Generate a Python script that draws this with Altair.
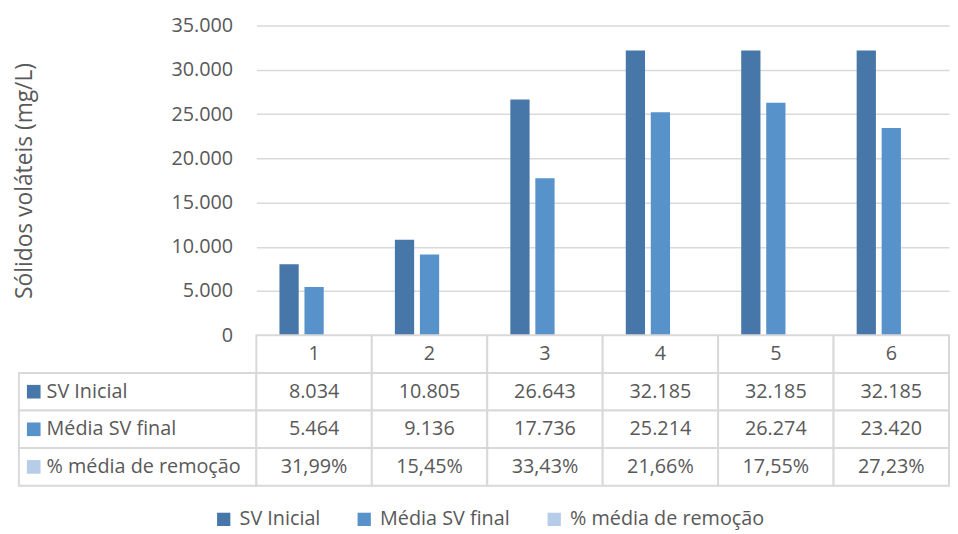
import altair as alt
import pandas as pd

categories = ["1", "2", "3", "4", "5", "6"]
series = ["SV Inicial", "Média SV final", "% média de remoção"]
sv_inicial = [8034, 10805, 26643, 32185, 32185, 32185]
media_sv_final = [5464, 9136, 17736, 25214, 26274, 23420]
pct_remocao = [31.99, 15.45, 33.43, 21.66, 17.55, 27.23]
colors = ["#4777A8", "#5892CA", "#B6CCE8"]
y_ticks = [0, 5000, 10000, 15000, 20000, 25000, 30000, 35000]

FONT = "Open Sans"
TXT = "#595959"
GRID = "#D9D9D9"
FS = 20

def fmt_int(v):
    return f"{v:,}".replace(",", ".")

def fmt_pct(v):
    return f"{v:.2f}%".replace(".", ",")

# bar data
rows = []
for i, c in enumerate(categories):
    rows.append({"cat": c, "series": series[0], "value": sv_inicial[i]})
    rows.append({"cat": c, "series": series[1], "value": media_sv_final[i]})
    rows.append({"cat": c, "series": series[2], "value": pct_remocao[i] / 100})
bars_df = pd.DataFrame(rows)

# table data
row_keys = ["hdr"] + series
trows = []
for i, c in enumerate(categories):
    trows.append({"cat": c, "row": "hdr", "label": c})
    trows.append({"cat": c, "row": series[0], "label": fmt_int(sv_inicial[i])})
    trows.append({"cat": c, "row": series[1], "label": fmt_int(media_sv_final[i])})
    trows.append({"cat": c, "row": series[2], "label": fmt_pct(pct_remocao[i])})
table_df = pd.DataFrame(trows)
labels_df = pd.DataFrame({"series": series, "row": series, "col": ["c"] * 3})

legend = alt.Legend(
    title=None, orient="none", direction="horizontal", legendX=197, legendY=489,
    symbolType="square", symbolSize=180, symbolStrokeWidth=0, labelFont=FONT,
    labelFontSize=FS, labelColor=TXT, labelOffset=6, columnPadding=34, padding=0,
    labelLimit=0,
)
color = alt.Color("series:N", scale=alt.Scale(domain=series, range=colors), legend=legend)

W = 700
H = 313
TH = 152

bars = alt.Chart(bars_df).mark_bar().encode(
    x=alt.X("cat:N", sort=categories, axis=None,
            scale=alt.Scale(paddingInner=0.4, paddingOuter=0.2)),
    xOffset=alt.XOffset("series:N", sort=series,
                        scale=alt.Scale(paddingInner=0.23, paddingOuter=0)),
    y=alt.Y("value:Q", scale=alt.Scale(domain=[0, 35000], nice=False),
            axis=alt.Axis(values=y_ticks, title="Sólidos voláteis (mg/L)",
                          labelExpr="replace(format(datum.value, ','), ',', '.')",
                          domain=False, ticks=False, labelPadding=24,
                          labelFont=FONT, labelFontSize=FS, labelColor=TXT,
                          titleFont=FONT, titleFontSize=23, titleColor=TXT,
                          titleFontWeight="normal", titlePadding=136,
                          gridColor=GRID, gridWidth=1.5)),
    color=color,
).properties(width=W, height=H)

spacer = alt.Chart(pd.DataFrame({"a": [0]})).mark_point(opacity=0).encode(
    x=alt.value(0), y=alt.value(0)
).properties(width=240, height=H)

tbase = alt.Chart(table_df).encode(
    x=alt.X("cat:N", sort=categories, axis=None,
            scale=alt.Scale(paddingInner=0, paddingOuter=0)),
    y=alt.Y("row:N", sort=row_keys, axis=None,
            scale=alt.Scale(domain=row_keys, paddingInner=0, paddingOuter=0)),
)
values_panel = alt.layer(
    tbase.mark_rect(fill="white", stroke=GRID, strokeWidth=2),
    tbase.mark_text(font=FONT, fontSize=FS, color=TXT).encode(text="label:N"),
).properties(width=W, height=TH)

lbase = alt.Chart(labels_df).encode(
    y=alt.Y("row:N", axis=None,
            scale=alt.Scale(domain=row_keys, paddingInner=0, paddingOuter=0)),
)
labels_panel = alt.layer(
    lbase.mark_rect(fill="white", stroke=GRID, strokeWidth=2).encode(
        x=alt.X("col:N", axis=None, scale=alt.Scale(paddingInner=0, paddingOuter=0))),
    lbase.mark_point(shape="square", filled=True, size=190, opacity=1).encode(
        x=alt.value(15), color=color),
    lbase.mark_text(font=FONT, fontSize=FS, color=TXT, align="left").encode(
        x=alt.value(28), text="series:N"),
).properties(width=240, height=TH)

chart = alt.concat(
    spacer, bars, labels_panel, values_panel, columns=2, spacing=0, bounds="flush"
).properties(
    padding={"left": 5, "top": 5, "right": 0, "bottom": 0}
).configure_view(stroke=None)

chart.save("out.html", embed_options={"renderer": "svg", "actions": False})
